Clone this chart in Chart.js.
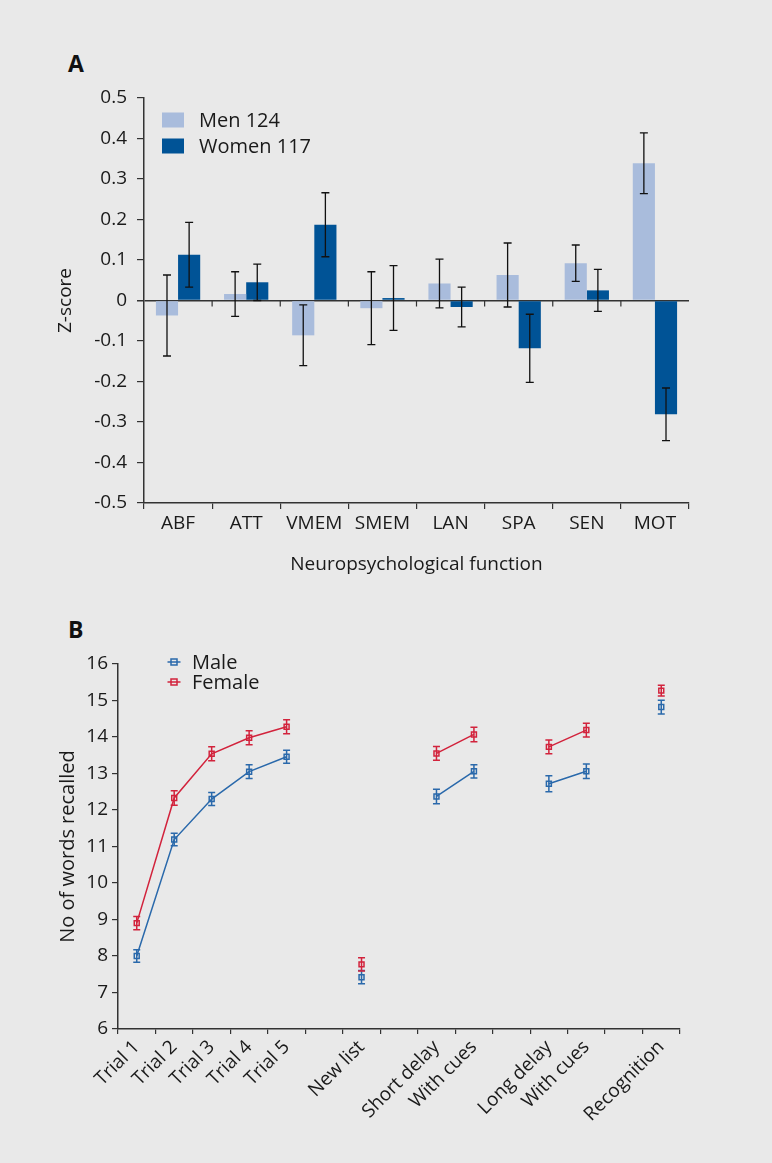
<!DOCTYPE html>
<html>
<head>
<meta charset="utf-8">
<script src="https://cdn.jsdelivr.net/npm/chart.js@4.4.1/dist/chart.umd.min.js"></script>
<style>
  html, body { margin: 0; padding: 0; background: #e9e9e9; }
  body { width: 772px; height: 1163px; position: relative; overflow: hidden; font-family: "Open Sans", sans-serif; }
  canvas { position: absolute; left: 0; }
  #chartA { top: 0; }
  #chartB { top: 600px; }
  .panel { position: absolute; left: 68px; font-weight: bold; font-size: 23px; line-height: 23px; color: #111; }
</style>
</head>
<body>
<div class="panel" style="top:52px">A</div>
<div class="panel" style="top:618px">B</div>
<canvas id="chartA" width="772" height="600"></canvas>
<canvas id="chartB" width="772" height="563"></canvas>
<script>
// Panel A data
const functions = ['ABF', 'ATT', 'VMEM', 'SMEM', 'LAN', 'SPA', 'SEN', 'MOT'];
const menScores = [-0.037, 0.016, -0.086, -0.019, 0.042, 0.063, 0.092, 0.339];
const menErrors = [0.10, 0.055, 0.075, 0.09, 0.06, 0.079, 0.045, 0.075];
const womenScores = [0.113, 0.045, 0.187, 0.006, -0.016, -0.118, 0.025, -0.281];
const womenErrors = [0.08, 0.045, 0.079, 0.08, 0.049, 0.084, 0.052, 0.065];

// Panel B data (null = empty slot on the axis)
const recallLabels = ['Trial 1', 'Trial 2', 'Trial 3', 'Trial 4', 'Trial 5', '', 'New list', '',
  'Short delay', 'With cues', '', 'Long delay', 'With cues', '', 'Recognition'];
const maleRecall = [8.00, 11.19, 12.30, 13.05, 13.46, null, 7.42, null, 12.37, 13.06, null, 12.72, 13.06, null, 14.82];
const maleErrors = [0.17, 0.17, 0.18, 0.19, 0.18, null, 0.18, null, 0.2, 0.18, null, 0.22, 0.2, null, 0.19];
const femaleRecall = [8.90, 12.33, 13.54, 13.98, 14.28, null, 7.77, null, 13.55, 14.07, null, 13.73, 14.19, null, 15.27];
const femaleErrors = [0.18, 0.2, 0.19, 0.19, 0.19, null, 0.18, null, 0.19, 0.2, null, 0.19, 0.19, null, 0.15];

const TEXT = '#1a1a1a';
const AXIS = '#333333';
Chart.defaults.font.family = '"Open Sans", sans-serif';
Chart.defaults.font.size = 19;
Chart.defaults.color = TEXT;

// draws error bars from each dataset's "errors" array
const errorBars = {
  id: 'errorBars',
  afterDatasetsDraw(chart, args, opts) {
    const { ctx, scales: { y } } = chart;
    chart.data.datasets.forEach((ds, di) => {
      const meta = chart.getDatasetMeta(di);
      meta.data.forEach((el, i) => {
        const v = ds.data[i];
        const e = ds.errors[i];
        if (v == null || e == null) return;
        const x = el.x;
        const yTop = y.getPixelForValue(v + e);
        const yBot = y.getPixelForValue(v - e);
        const c = opts.cap / 2;
        ctx.save();
        ctx.strokeStyle = opts.color || ds.borderColor;
        ctx.lineWidth = opts.width;
        ctx.beginPath();
        ctx.moveTo(x, yTop); ctx.lineTo(x, yBot);
        ctx.moveTo(x - c, yTop); ctx.lineTo(x + c, yTop);
        ctx.moveTo(x - c, yBot); ctx.lineTo(x + c, yBot);
        ctx.stroke();
        ctx.restore();
      });
    });
  }
};

// small tick marks hanging from the zero line between categories
const zeroTicks = {
  id: 'zeroTicks',
  afterDatasetsDraw(chart) {
    const { ctx, scales: { x, y } } = chart;
    const y0 = y.getPixelForValue(0);
    ctx.save();
    ctx.strokeStyle = AXIS;
    ctx.lineWidth = 1.2;
    ctx.beginPath();
    for (let i = 1; i < functions.length; i++) {
      const xb = (x.getPixelForValue(i - 1) + x.getPixelForValue(i)) / 2;
      ctx.moveTo(xb, y0); ctx.lineTo(xb, y0 + 6);
    }
    ctx.stroke();
    ctx.restore();
  }
};

// legend inside the plot area
const innerLegend = {
  id: 'innerLegend',
  afterDraw(chart, args, opts) {
    const { ctx, chartArea } = chart;
    ctx.save();
    ctx.font = opts.size + 'px "Open Sans", sans-serif';
    ctx.textBaseline = 'middle';
    chart.data.datasets.forEach((ds, i) => {
      const cy = chartArea.top + opts.top + i * opts.gap;
      const bx = chartArea.left + opts.left;
      if (opts.type === 'box') {
        ctx.fillStyle = ds.backgroundColor;
        ctx.fillRect(bx, cy - 7.5, 22, 15);
      } else {
        ctx.strokeStyle = ds.borderColor;
        ctx.lineWidth = 1.5;
        ctx.beginPath();
        ctx.moveTo(bx - 6.5, cy); ctx.lineTo(bx + 6.5, cy);
        ctx.stroke();
        ctx.strokeRect(bx - 3, cy - 3, 6, 6);
      }
      ctx.fillStyle = TEXT;
      ctx.fillText(ds.label, chartArea.left + opts.text, cy + 1);
    });
    ctx.restore();
  }
};

new Chart(document.getElementById('chartA'), {
  type: 'bar',
  data: {
    labels: functions,
    datasets: [
      { label: 'Men 124', data: menScores, errors: menErrors, backgroundColor: '#a9bcdc' },
      { label: 'Women 117', data: womenScores, errors: womenErrors, backgroundColor: '#005396' }
    ]
  },
  options: {
    responsive: false,
    animation: false,
    categoryPercentage: 0.65,
    barPercentage: 1.0,
    layout: { padding: { top: 98, right: 83, left: 0, bottom: 0 } },
    plugins: {
      legend: { display: false },
      tooltip: { enabled: false },
      errorBars: { color: '#111', width: 1.3, cap: 8 },
      innerLegend: { type: 'box', size: 20, left: 18, top: 22, gap: 26, text: 55 }
    },
    scales: {
      x: {
        afterFit: s => { s.height = 97; },
        grid: { drawOnChartArea: false, tickLength: 6, tickColor: AXIS, lineWidth: 1.2 },
        border: { color: AXIS, width: 1.5 },
        ticks: { padding: 3, color: TEXT },
        title: { display: true, text: 'Neuropsychological function', padding: { top: 0, bottom: 24 }, color: TEXT }
      },
      y: {
        min: -0.5, max: 0.5,
        afterFit: s => { s.width = 144; },
        grid: {
          drawOnChartArea: true, tickLength: 7, tickColor: AXIS,
          color: c => (c.tick && c.tick.value === 0 ? AXIS : 'rgba(0,0,0,0)'),
          lineWidth: c => (c.tick && c.tick.value === 0 ? 1.5 : 1.2)
        },
        border: { color: AXIS, width: 1.5 },
        ticks: { stepSize: 0.1, padding: 10, color: TEXT, callback: v => (Math.abs(v) < 1e-9 ? '0' : v.toFixed(1)) },
        title: { display: true, text: 'Z-score', padding: { top: 54, bottom: 0 }, color: TEXT }
      }
    }
  },
  plugins: [errorBars, zeroTicks, innerLegend]
});

new Chart(document.getElementById('chartB'), {
  type: 'line',
  data: {
    labels: recallLabels,
    datasets: [
      { label: 'Male', data: maleRecall, errors: maleErrors, borderColor: '#2a69ab', backgroundColor: 'rgba(0,0,0,0)' },
      { label: 'Female', data: femaleRecall, errors: femaleErrors, borderColor: '#d2233c', backgroundColor: 'rgba(0,0,0,0)' }
    ]
  },
  options: {
    responsive: false,
    animation: false,
    spanGaps: false,
    elements: {
      line: { borderWidth: 1.5, tension: 0 },
      point: { pointStyle: 'rect', radius: 3.5, borderWidth: 1.5, backgroundColor: 'rgba(0,0,0,0)' }
    },
    layout: { padding: { top: 64, right: 92, left: 0, bottom: 0 } },
    plugins: {
      legend: { display: false },
      tooltip: { enabled: false },
      errorBars: { width: 1.5, cap: 7 },
      innerLegend: { type: 'line', size: 20, left: 56, top: -2, gap: 20, text: 74 }
    },
    scales: {
      x: {
        offset: true,
        afterFit: s => { s.height = 134; },
        grid: { offset: true, drawOnChartArea: false, tickLength: 5, tickColor: AXIS, lineWidth: 1.2 },
        border: { color: AXIS, width: 1.5 },
        ticks: { autoSkip: false, minRotation: 45, maxRotation: 45, padding: 2, color: TEXT }
      },
      y: {
        min: 6, max: 16,
        afterFit: s => { s.width = 118; },
        grid: { drawOnChartArea: false, tickLength: 6, tickColor: AXIS, lineWidth: 1.2 },
        border: { color: AXIS, width: 1.5 },
        ticks: { stepSize: 1, padding: 4, color: TEXT },
        title: { display: true, text: 'No of words recalled', font: { size: 20 }, padding: { top: 56, bottom: 0 }, color: TEXT }
      }
    }
  },
  plugins: [errorBars, innerLegend]
});
</script>
</body>
</html>
